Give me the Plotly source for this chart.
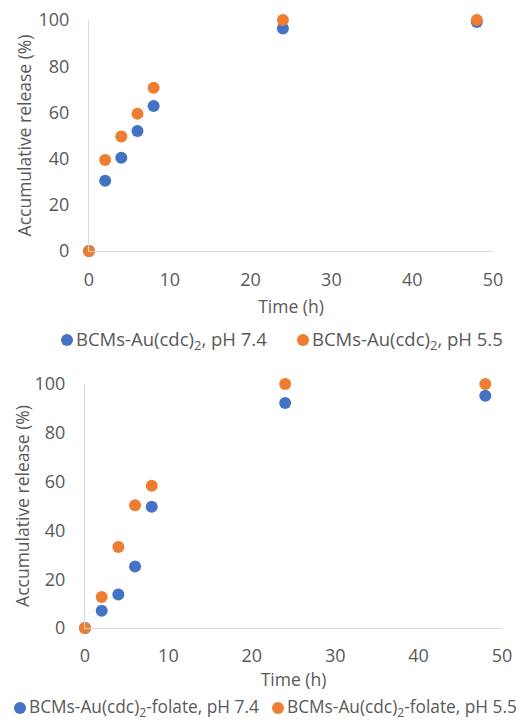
import plotly.graph_objects as go

time_h = [0, 2, 4, 6, 8, 24, 48]
top_ph74 = [0, 30.4, 40.4, 51.9, 62.8, 96.3, 99.1]
top_ph55 = [0, 39.4, 49.6, 59.4, 70.7, 100, 100]
bot_ph74 = [0, 7.1, 13.7, 25.2, 49.7, 92.2, 95.2]
bot_ph55 = [0, 12.7, 33.2, 50.3, 58.3, 100, 100]

top_names = ["BCMs-Au(cdc)<sub>2</sub>, pH 7.4", "BCMs-Au(cdc)<sub>2</sub>, pH 5.5"]
bot_names = ["BCMs-Au(cdc)<sub>2</sub>-folate, pH 7.4", "BCMs-Au(cdc)<sub>2</sub>-folate, pH 5.5"]

BLUE = "#4472C4"
ORANGE = "#ED7D31"
TXT = "#595959"
FONT = "Open Sans"

W, H = 522, 722

def dom_x(a, b):
    return [a / W, b / W]

def dom_y(top, bottom):
    return [1 - bottom / H, 1 - top / H]

fig = go.Figure()
mk = dict(size=12)
fig.add_trace(go.Scatter(x=time_h, y=top_ph74, mode="markers", name=top_names[0],
                         marker=dict(color=BLUE, **mk), xaxis="x", yaxis="y", cliponaxis=False))
fig.add_trace(go.Scatter(x=time_h, y=top_ph55, mode="markers", name=top_names[1],
                         marker=dict(color=ORANGE, **mk), xaxis="x", yaxis="y", cliponaxis=False))
fig.add_trace(go.Scatter(x=time_h, y=bot_ph74, mode="markers", name=bot_names[0],
                         marker=dict(color=BLUE, **mk), xaxis="x2", yaxis="y2", cliponaxis=False))
fig.add_trace(go.Scatter(x=time_h, y=bot_ph55, mode="markers", name=bot_names[1],
                         marker=dict(color=ORANGE, **mk), xaxis="x2", yaxis="y2", cliponaxis=False))

TICK = dict(family=FONT, size=18, color=TXT)
TITLE = dict(family=FONT, size=17.5, color=TXT)
common = dict(showgrid=False, zeroline=False, showline=True, linecolor="#d9d9d9", linewidth=1,
              ticks="", tickfont=TICK, automargin=False)

fig.update_layout(
    width=W, height=H,
    margin=dict(l=0, r=0, t=0, b=0),
    paper_bgcolor="white", plot_bgcolor="white",
    font=dict(family=FONT, color=TXT),
    showlegend=False,
    xaxis=dict(domain=dom_x(89, 493), range=[0, 50], dtick=10, anchor="y", ticklabelstandoff=12,
               title=dict(text="Time (h)", font=TITLE, standoff=11), **common),
    yaxis=dict(domain=dom_y(20, 251), range=[0, 100], dtick=20, anchor="x", ticklabelstandoff=15,
               title=dict(text="Accumulative release (%)", font=TITLE, standoff=2), **common),
    xaxis2=dict(domain=dom_x(85, 502), range=[0, 50], dtick=10, anchor="y2", ticklabelstandoff=11,
                title=dict(text="Time (h)", font=TITLE, standoff=0), **common),
    yaxis2=dict(domain=dom_y(384, 628), range=[0, 100], dtick=20, anchor="x2", ticklabelstandoff=15,
                title=dict(text="Accumulative release (%)", font=TITLE, standoff=0), **common),
)

# Legend rows drawn as markers + labels (Excel-style compact legend)
legend_items = [
    (67, 340, BLUE, top_names[0], 18.5),
    (303, 340, ORANGE, top_names[1], 18.5),
    (20, 708, BLUE, bot_names[0], 17.3),
    (278, 708, ORANGE, bot_names[1], 17.3),
]
for cx, cy, col, label, fs in legend_items:
    fig.add_shape(type="circle", xref="paper", yref="paper", xsizemode="pixel", ysizemode="pixel",
                  xanchor=cx / W, yanchor=1 - cy / H, x0=-6, x1=6, y0=-6, y1=6,
                  fillcolor=col, line=dict(width=0))
    fig.add_annotation(text=label, xref="paper", yref="paper", x=(cx + 7) / W, y=1 - cy / H,
                       xanchor="left", yanchor="middle", showarrow=False,
                       font=dict(family=FONT, size=fs, color=TXT))

fig.write_html("out.html")
